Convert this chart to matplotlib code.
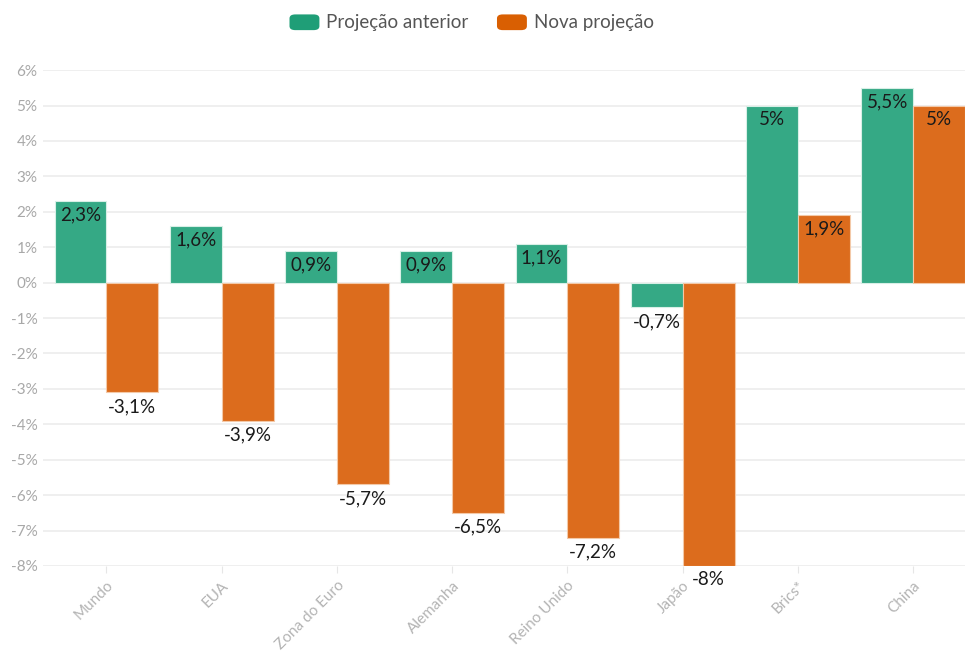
import numpy as np
import matplotlib.pyplot as plt
from matplotlib.patches import FancyBboxPatch

# Data
categories = ['Mundo', 'EUA', 'Zona do Euro', 'Alemanha', 'Reino Unido', 'Japão', 'Brics*', 'China']
anterior = [2.3, 1.6, 0.9, 0.9, 1.1, -0.7, 5.0, 5.5]
nova = [-3.1, -3.9, -5.7, -6.5, -7.2, -8.0, 1.9, 5.0]
anterior_labels = ['2,3%', '1,6%', '0,9%', '0,9%', '1,1%', '-0,7%', '5%', '5,5%']
nova_labels = ['-3,1%', '-3,9%', '-5,7%', '-6,5%', '-7,2%', '-8%', '1,9%', '5%']
yticks = [6, 5, 4, 3, 2, 1, 0, -1, -2, -3, -4, -5, -6, -7, -8]

plt.rcParams['font.family'] = ['Lato', 'DejaVu Sans']

fig = plt.figure(figsize=(9.65, 6.55), dpi=100)
ax = fig.add_axes([0.0446, 0.136, 0.9554, 0.757])

x = np.arange(len(categories))
w = 0.45
green = '#35a985'
orange = '#dc6c1d'

b1 = ax.bar(x - w / 2, anterior, w, color=green, edgecolor='#d8efe6', linewidth=0.8, zorder=3)
b2 = ax.bar(x + w / 2, nova, w, color=orange, edgecolor='#f3c9a8', linewidth=0.8, zorder=3)

def label_bars(bars, vals, labels):
    for bar, v, lab in zip(bars, vals, labels):
        cx = bar.get_x() + bar.get_width() / 2
        ax.annotate(lab, (cx, v), xytext=(0, -4), textcoords='offset points',
                    ha='center', va='top', fontsize=13.5, color='#1a1a1a', zorder=5)

label_bars(b1, anterior, anterior_labels)
label_bars(b2, nova, nova_labels)

ax.set_xlim(-0.55, 7.45)
ax.set_ylim(-8, 6)
ax.set_yticks(yticks)
ax.set_yticklabels([f'{t}%' for t in yticks])
ax.set_xticks(x)
ax.set_xticklabels(categories, rotation=45, ha='right', rotation_mode='anchor')
ax.grid(axis='y', color='#ececec', linewidth=1.2, zorder=0)
ax.tick_params(axis='y', length=0, labelsize=11, labelcolor='#a8a8a8', pad=4)
ax.tick_params(axis='x', length=5, color='#e6e6e6', labelsize=11, labelcolor='#b4b4b4', pad=4)
for s in ax.spines.values():
    s.set_visible(False)

# Legend at top
legend_items = [('Projeção anterior', '#1f9e77'), ('Nova projeção', '#d95f02')]
lx = [0.300, 0.515]
for (name, c), px in zip(legend_items, lx):
    fig.patches.append(FancyBboxPatch((px, 0.954), 0.031, 0.024, boxstyle='round,pad=0,rounding_size=0.006',
                                      transform=fig.transFigure, facecolor=c, edgecolor='none'))
    fig.text(px + 0.038, 0.966, name, ha='left', va='center', fontsize=13.5, color='#555555')

fig.savefig('out.png', dpi=100, facecolor='white')
